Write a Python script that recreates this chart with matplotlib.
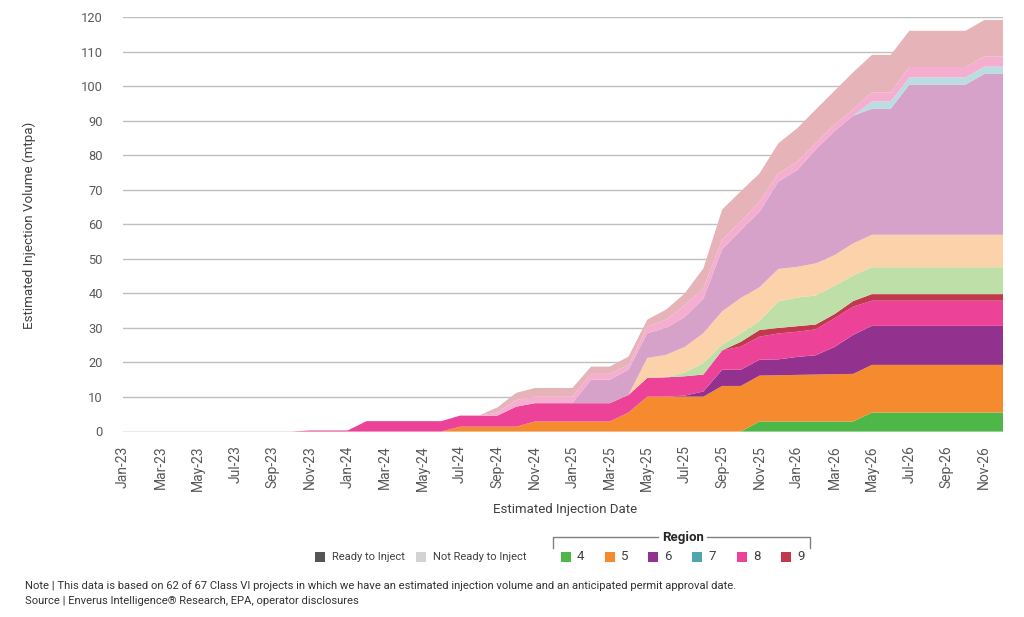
import numpy as np
import pandas as pd
import matplotlib
matplotlib.use("Agg")
import matplotlib.pyplot as plt
from matplotlib.patches import Rectangle
from matplotlib.lines import Line2D

plt.rcParams['font.family'] = ['Roboto', 'DejaVu Sans']

months = list(pd.date_range('2023-01-01', periods=48, freq='MS').strftime('%b-%y'))

z = lambda n: [0.0] * n

# Ready to Inject
r4_ready = z(34) + [2.9] * 6 + [5.5] * 8
r5_ready = z(18) + [1.4] * 4 + [2.9] * 5 + [5.5] + [10.1] * 4 + [13.2, 13.2, 13.3, 13.4, 13.5, 13.6, 13.7, 13.8] + [13.8] * 8
r6_ready = z(30) + [0.3, 1.5, 4.7, 4.7, 4.6, 4.6, 5.2, 5.6, 7.9, 11.3] + [11.3] * 8
r7_ready = z(48)
r8_ready = z(10) + [0.3] * 3 + [3.0] * 5 + [3.2] * 3 + [5.8] + [5.3] * 5 + [5.1, 5.4, 5.6, 5.6, 4.9, 5.6, 6.7, 6.7, 7.5, 7.3, 7.5, 8.3, 8.2] + [7.3] * 8
r9_ready = z(33) + [1.4, 1.9, 1.6, 1.6, 1.4, 1.2, 1.6] + [1.9] * 8

# Not Ready to Inject
r4_nr = z(30) + [1.1, 3.3, 1.7, 2.4, 2.6, 7.7, 8.3, 8.4, 8.2, 7.4] + [7.8] * 8
r5_nr = z(28) + [5.8, 6.5, 7.4, 8.7, 9.6, 10.3, 9.8, 9.4, 8.9, 9.3, 8.9, 9.3] + [9.4] * 8
r6_nr = z(25) + [6.8, 6.8, 7.3, 7.2, 7.8, 8.7, 10.0, 18.0, 19.6, 21.9, 25.3, 28.0, 33.0, 35.9, 37.0, 36.5, 36.5] + [43.5] * 4 + [46.6] * 2
r7_nr = z(40) + [2.1] * 8
r8_nr = z(20) + [0.9] + [1.9] * 4 + [1.7, 1.7, 1.4, 1.9, 2.4, 3.4, 3.0, 2.8, 2.6, 2.9, 2.4, 2.4, 1.9, 1.9, 1.9, 2.6, 2.6] + [3.0] * 4 + [2.9] * 2
r9_nr = z(20) + [1.5, 2.1, 2.5, 2.5, 2.5, 2.1, 2.1, 2.4, 2.0, 2.9, 3.4, 5.8, 8.7, 8.7, 8.2, 8.7, 9.7, 9.7, 9.8, 10.7, 10.9, 10.9] + [10.5] * 4 + [10.6] * 2

regions = ['4', '5', '6', '7', '8', '9']
ready_colors = ['#4DB848', '#F58A2E', '#92328E', '#4FA6AE', '#EC4399', '#C0394D']
nr_colors = ['#BEDFA8', '#FCD2AA', '#D6A2C9', '#B9DDE0', '#F5AED0', '#E6B3B9']

series = [r4_ready, r5_ready, r6_ready, r7_ready, r8_ready, r9_ready,
          r4_nr, r5_nr, r6_nr, r7_nr, r8_nr, r9_nr]
colors = ready_colors + nr_colors

W, H = 1024, 617
fig = plt.figure(figsize=(10.24, 6.17), dpi=100)
ax = fig.add_axes([123 / W, 1 - 431.5 / H, 880 / W, (431.5 - 17.3) / H])

x = np.arange(len(months))
ax.stackplot(x, np.array(series), colors=colors, linewidth=0, zorder=2)

ax.set_xlim(0, len(months) - 1)
ax.set_ylim(0, 120)
ax.set_yticks(np.arange(0, 121, 10))
ax.yaxis.grid(True, color='#BFBFBF', linewidth=1, zorder=0)
ax.set_axisbelow(True)
for s in ax.spines.values():
    s.set_visible(False)
ax.axhline(0, color='#D0D0D0', linewidth=1, zorder=1)

ax.set_xticks(x[::2])
ax.set_xticklabels(months[::2], rotation=90, fontsize=10, color='#595959')
ax.tick_params(axis='both', length=0, colors='#595959')
ax.tick_params(axis='y', labelsize=9.3, pad=14.5)
ax.tick_params(axis='x', pad=10)

fig.text(29 / W, 1 - 225 / H, 'Estimated Injection Volume (mtpa)', fontsize=9.6, color='#404040',
         rotation=90, ha='center', va='center')
fig.text(565 / W, 1 - 509 / H, 'Estimated Injection Date', fontsize=9.5, color='#404040',
         ha='center', va='center')

# Legend
def rect(px, py, color):
    fig.add_artist(Rectangle((px / W, 1 - (py + 10) / H), 10 / W, 10 / H, transform=fig.transFigure,
                             facecolor=color, edgecolor='none'))

ly = 552
rect(315, ly, '#555555')
fig.text(332 / W, 1 - (ly + 5) / H, 'Ready to Inject', fontsize=8, color='#404040', va='center')
rect(416, ly, '#D3D3D3')
fig.text(433 / W, 1 - (ly + 5) / H, 'Not Ready to Inject', fontsize=8, color='#404040', va='center')

reg_x = [561, 605, 648, 692, 737, 781]
for rx, lab, c in zip(reg_x, regions, ready_colors):
    rect(rx, ly, c)
    fig.text((rx + 16) / W, 1 - (ly + 5) / H, lab, fontsize=9.5, color='#404040', va='center')

# bracket
bx0, bx1, by, by2 = 553, 810, 537, 548
fig.add_artist(Line2D([bx0 / W, bx0 / W, 658 / W], [1 - by2 / H, 1 - by / H, 1 - by / H],
                      transform=fig.transFigure, color='#808080', linewidth=1))
fig.add_artist(Line2D([707 / W, bx1 / W, bx1 / W], [1 - by / H, 1 - by / H, 1 - by2 / H],
                      transform=fig.transFigure, color='#808080', linewidth=1))
fig.text(683 / W, 1 - by / H, 'Region', fontsize=9.5, fontweight='bold', color='#262626',
         ha='center', va='center')

fig.text(25 / W, 1 - 586 / H,
         'Note | This data is based on 62 of 67 Class VI projects in which we have an estimated injection volume and an anticipated permit approval date.',
         fontsize=8.15, color='#333333', va='center')
fig.text(25 / W, 1 - 601 / H, 'Source | Enverus Intelligence\u00ae Research, EPA, operator disclosures',
         fontsize=8.15, color='#333333', va='center')

fig.savefig('out.png', dpi=100)
